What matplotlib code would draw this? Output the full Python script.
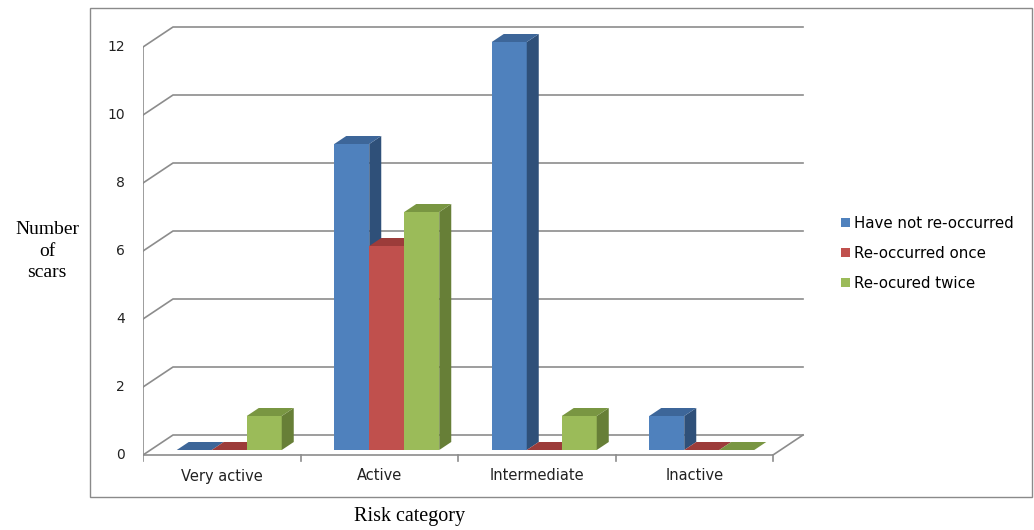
import matplotlib
matplotlib.use("Agg")
import matplotlib.pyplot as plt
from matplotlib.patches import Polygon, Patch, Rectangle

# data
categories = ["Very active", "Active", "Intermediate", "Inactive"]
series = ["Have not re-occurred", "Re-occurred once", "Re-ocured twice"]
not_reoccurred = [0, 9, 12, 1]
reoccurred_once = [0, 6, 0, 0]
reoccurred_twice = [1, 7, 1, 0]
yticks = [0, 2, 4, 6, 8, 10, 12]

values = [not_reoccurred, reoccurred_once, reoccurred_twice]
# front, top, side shades for each series
shades = [("#4f81bd", "#3d6699", "#2f5079"),
          ("#c0504d", "#9c3c3a", "#8b3533"),
          ("#9bbb59", "#799642", "#677f37")]

W, H = 1034, 530
fig = plt.figure(figsize=(W / 100, H / 100), dpi=100)

# plot area in pixels and scale of one category / one unit
px_cat, px_val = 157.5, 34.0
x0_px, y0_px = 143, 455
left_px, right_px, top_px, bot_px = 143, 815, 20, 470
ax = fig.add_axes([left_px / W, 1 - bot_px / H,
                   (right_px - left_px) / W, (bot_px - top_px) / H])
ax.set_xlim(0, (right_px - x0_px) / px_cat)
ax.set_ylim(-(bot_px - y0_px) / px_val, (y0_px - top_px) / px_val)
ax.axis("off")

# depth offset of the back wall in data units
DX, DY = 30 / px_cat, 20 / px_val
ncat = len(categories)
grid_c = "#8c8c8c"

# walls / gridlines
for v in yticks:
    ax.plot([0, DX, ncat + DX], [v, v + DY, v + DY], color=grid_c, lw=1.2, zorder=1)
    ax.plot([-5 / px_cat, 0], [v, v], color=grid_c, lw=1.2, zorder=1)
    ax.text(-18 / px_cat, v, str(v), ha="right", va="center", fontsize=10, color="#222222")
ax.plot([0, 0], [0, yticks[-1]], color=grid_c, lw=1.2, zorder=1)
ax.plot([0, ncat, ncat + DX], [0, 0, DY], color=grid_c, lw=1.2, zorder=1)
for i in range(ncat + 1):
    ax.plot([i, i], [0, -6 / px_val], color=grid_c, lw=1.2, zorder=1)
for i, c in enumerate(categories):
    ax.text(i + 0.5, -21 / px_val, c, ha="center", va="center", fontsize=10.5, color="#222222")

# 3d bars
bw = 1 / 4.5
gap = 1 - 3 * bw
f0, f1 = 0.25, 0.65
ox, oy = f0 * DX, f0 * DY
dx, dy = (f1 - f0) * DX, (f1 - f0) * DY
z = 2
for i in range(ncat):
    for j in range(len(series)):
        v = values[j][i]
        xl = i + gap / 2 + j * bw + ox
        xr = xl + bw
        yb, yt = oy, oy + v
        front, top, side = shades[j]
        if v > 0:
            ax.add_patch(Rectangle((xl, yb), bw, v, facecolor=front, edgecolor="none", zorder=z))
            ax.add_patch(Polygon([(xr, yb), (xr + dx, yb + dy), (xr + dx, yt + dy), (xr, yt)],
                                 facecolor=side, edgecolor="none", zorder=z))
        ax.add_patch(Polygon([(xl, yt), (xr, yt), (xr + dx, yt + dy), (xl + dx, yt + dy)],
                             facecolor=top, edgecolor="none", zorder=z))
        z += 1

# legend
handles = [Patch(facecolor=shades[j][0], edgecolor="none", label=series[j]) for j in range(3)]
fig.legend(handles=handles, loc="upper left", bbox_to_anchor=(841 / W, 1 - 216 / H),
           frameon=False, fontsize=10.8, handlelength=0.6, handleheight=0.6,
           handletextpad=0.3, labelspacing=1.0, borderaxespad=0, borderpad=0)

# outer border
fig.add_artist(Rectangle((90 / W, 1 - 497 / H), 942 / W, 489 / H, transform=fig.transFigure,
                         facecolor="none", edgecolor="#8a8a8a", lw=1.0))

# axis titles
fig.text(47 / W, 1 - 251 / H, "Number\nof\nscars", ha="center", va="center",
         fontsize=14, family="Liberation Serif", linespacing=1.35)
fig.text(410 / W, 1 - 517 / H, "Risk category", ha="center", va="center",
         fontsize=14.5, family="Liberation Serif")

fig.savefig("out.png", dpi=100)
